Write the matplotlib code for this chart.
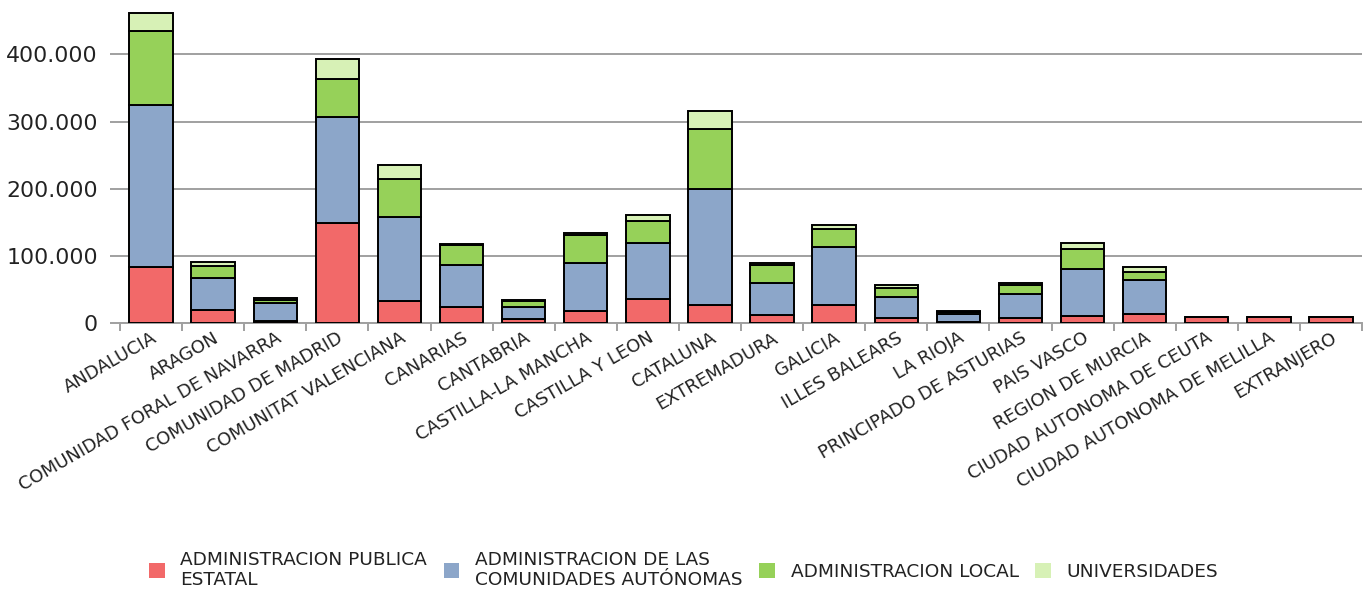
import matplotlib
matplotlib.use("Agg")
import matplotlib.pyplot as plt
import matplotlib.ticker as mticker
from matplotlib.patches import Patch
import numpy as np

categories = ["ANDALUCIA", "ARAGON", "COMUNIDAD FORAL DE NAVARRA", "COMUNIDAD DE MADRID",
              "COMUNITAT VALENCIANA", "CANARIAS", "CANTABRIA", "CASTILLA-LA MANCHA",
              "CASTILLA Y LEON", "CATALUNA", "EXTREMADURA", "GALICIA", "ILLES BALEARS",
              "LA RIOJA", "PRINCIPADO DE ASTURIAS", "PAIS VASCO", "REGION DE MURCIA",
              "CIUDAD AUTONOMA DE CEUTA", "CIUDAD AUTONOMA DE MELILLA", "EXTRANJERO"]

age = [84000, 20000, 3000, 149000, 33000, 24000, 6000, 18000, 36000, 27000,
       12000, 27000, 8500, 2000, 8500, 11500, 14500, 9000, 9000, 9000]
ccaa = [240000, 48000, 26500, 158000, 125000, 62000, 18000, 71000, 83000, 172000,
        48000, 87000, 30300, 12500, 35500, 68500, 50000, 0, 0, 0]
local = [110600, 17000, 4900, 56000, 56400, 30000, 9000, 41600, 32700, 89200,
         26300, 26300, 14300, 2500, 12500, 30000, 11500, 0, 0, 0]
univ = [26400, 6600, 3500, 29800, 21400, 2500, 1000, 3000, 9000, 27200,
        3000, 5900, 3500, 1000, 3000, 9000, 7500, 0, 0, 0]

series_labels = ["ADMINISTRACION PUBLICA\nESTATAL",
                 "ADMINISTRACION DE LAS\nCOMUNIDADES AUTÓNOMAS",
                 "ADMINISTRACION LOCAL", "UNIVERSIDADES"]
colors = ["#f26969", "#8ca6c9", "#96d159", "#d7f1b6"]

fig = plt.figure(figsize=(13.67, 5.95), dpi=100)
ax = fig.add_axes([120 / 1367, 1 - 323.3 / 595, (1362 - 120) / 1367, (323.3 - 5) / 595])

x = np.arange(len(categories))
bottom = np.zeros(len(categories))
for vals, col in zip([age, ccaa, local, univ], colors):
    v = np.array(vals, dtype=float)
    ax.bar(x, v, width=0.7, bottom=bottom, color=col, edgecolor="black",
           linewidth=1.4, zorder=3)
    bottom += v

ax.set_xlim(-0.5, len(categories) - 0.5)
ax.set_ylim(0, 473300)
ax.yaxis.set_major_locator(mticker.MultipleLocator(100000))
ax.yaxis.set_major_formatter(mticker.FuncFormatter(lambda v, p: f"{int(v):,}".replace(",", ".")))
ax.grid(axis="y", color="#a0a0a0", linewidth=1.4, zorder=0)
ax.set_axisbelow(True)

for s in ["top", "right", "left"]:
    ax.spines[s].set_visible(False)
ax.spines["bottom"].set_color("#a0a0a0")
ax.spines["bottom"].set_linewidth(1.4)

ax.tick_params(axis="y", length=7, width=1.4, color="#a0a0a0", labelsize=15.8, pad=9,
               labelcolor="#222222")
ax.set_xticks(x)
ax.set_xticklabels(categories, rotation=30, ha="right", va="top",
                   rotation_mode="anchor", fontsize=13, color="#222222")
ax.tick_params(axis="x", which="major", length=0, pad=4)
ax.set_xticks(np.arange(-0.5, len(categories), 1.0), minor=True)
ax.tick_params(axis="x", which="minor", length=6, width=1.4, color="#a0a0a0")

handles = [Patch(facecolor=c, edgecolor="none") for c in colors]
fig.legend(handles, series_labels, loc="center", bbox_to_anchor=(0.5, 0.042),
           ncol=4, frameon=False, fontsize=13.3, handlelength=0.85, handleheight=0.85,
           handletextpad=0.85, columnspacing=0.9, labelspacing=0.2,
           labelcolor="#222222")

fig.savefig("out.png", dpi=100)
